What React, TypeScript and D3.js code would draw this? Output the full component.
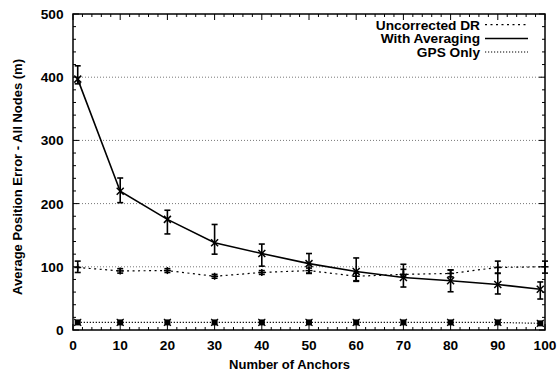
import React from "react";
import * as d3 from "d3";

const W = 557;
const H = 373;
const M = { left: 73, right: 12, top: 14, bottom: 43 };

// Series data (x = number of anchors, y = average position error, lo/hi = error bars)
const drX = [1, 10, 20, 30, 40, 50, 60, 70, 80, 90, 100];
const drY = [99, 93.5, 94, 85, 91, 94, 85, 88, 89.5, 99, 100];
const drLo = [91, 90, 91, 82, 88, 90, 77, 84, 84, 90, 90];
const drHi = [109, 97, 97, 88, 94, 98, 90, 96, 95, 109, 109];

const avgX = [1, 10, 20, 30, 40, 50, 60, 70, 80, 90, 99];
const avgY = [397, 219.5, 175, 138, 121, 105, 92.5, 83, 78, 72, 64.5];
const avgLo = [389.5, 201.5, 152, 120, 101, 89.5, 78, 68, 60.5, 57, 49];
const avgHi = [418, 240.5, 189.5, 167, 136, 121, 114, 104, 95, 89.5, 76];

const gpsX = [1, 10, 20, 30, 40, 50, 60, 70, 80, 90, 99];
const gpsY = [12, 12, 12, 12, 12, 12, 12, 12, 12, 12, 10.5];

const xTicks = [0, 10, 20, 30, 40, 50, 60, 70, 80, 90, 100];
const yTicks = [0, 100, 200, 300, 400, 500];
const gridValues = [100, 200, 300, 400];

const legendLabels = ["Uncorrected DR", "With Averaging", "GPS Only"];

const FONT = "'Liberation Sans', Arial, Helvetica, sans-serif";

export default function App() {
  const x = d3.scaleLinear().domain([0, 100]).range([M.left, W - M.right]);
  const y = d3.scaleLinear().domain([0, 500]).range([H - M.bottom, M.top]);
  const x0 = M.left, x1 = W - M.right, y0 = H - M.bottom, y1 = M.top;

  const line = d3.line<[number, number]>().x((d) => x(d[0])).y((d) => y(d[1]));
  const drPts: [number, number][] = drX.map((v, i) => [v, drY[i]]);
  const avgPts: [number, number][] = avgX.map((v, i) => [v, avgY[i]]);
  const gpsPts: [number, number][] = gpsX.map((v, i) => [v, gpsY[i]]);

  const xMinor = d3.range(0, 101, 2).filter((v) => v % 10 !== 0);
  const yMinor = d3.range(0, 501, 20).filter((v) => v % 100 !== 0);

  const errBar = (xs: number[], lo: number[], hi: number[], key: string) =>
    xs.map((v, i) => {
      const cx = x(v);
      return (
        <g key={key + i} stroke="#000" strokeWidth={1.6}>
          <line x1={cx} x2={cx} y1={y(lo[i])} y2={y(hi[i])} />
          <line x1={cx - 3} x2={cx + 3} y1={y(lo[i])} y2={y(lo[i])} />
          <line x1={cx - 3} x2={cx + 3} y1={y(hi[i])} y2={y(hi[i])} />
        </g>
      );
    });

  const xMark = (px: number, py: number, k: string, s = 3.5) => (
    <g key={k} stroke="#000" strokeWidth={1.5}>
      <line x1={px - s} x2={px + s} y1={py - s} y2={py + s} />
      <line x1={px - s} x2={px + s} y1={py + s} y2={py - s} />
    </g>
  );
  const plusMark = (px: number, py: number, k: string, s = 3.5) => (
    <g key={k} stroke="#000" strokeWidth={1.5}>
      <line x1={px - s} x2={px + s} y1={py} y2={py} />
      <line x1={px} x2={px} y1={py - s} y2={py + s} />
    </g>
  );
  const starMark = (px: number, py: number, k: string, s = 3.5) => (
    <g key={k}>
      <rect x={px - s + 0.5} y={py - s + 0.5} width={2 * s - 1} height={2 * s - 1} fill="#000" />
      <g stroke="#000" strokeWidth={1.2}>
        <line x1={px - s} x2={px + s} y1={py - s} y2={py + s} />
        <line x1={px - s} x2={px + s} y1={py + s} y2={py - s} />
      </g>
    </g>
  );

  const legendRows = [
    { label: legendLabels[0], dash: "2,3.5", width: 1.2, ly: 24.7 },
    { label: legendLabels[1], dash: "none", width: 1.6, ly: 38.5 },
    { label: legendLabels[2], dash: "1.2,1.8", width: 1.2, ly: 52 },
  ];

  return (
    <svg
      width={W}
      height={H}
      style={{ position: "absolute", left: 0, top: 0, background: "#fff" }}
      fontFamily={FONT}
    >
      <rect width={W} height={H} fill="#fff" />
      {/* grid */}
      {gridValues.map((v) => (
        <line
          key={"g" + v}
          x1={x0}
          x2={x1}
          y1={y(v)}
          y2={y(v)}
          stroke="#777"
          strokeWidth={1}
          strokeDasharray="1,2"
        />
      ))}
      {/* ticks */}
      {xTicks.map((v) => (
        <g key={"xt" + v} stroke="#000" strokeWidth={1}>
          <line x1={x(v)} x2={x(v)} y1={y0} y2={y0 - 6} />
          <line x1={x(v)} x2={x(v)} y1={y1} y2={y1 + 6} />
        </g>
      ))}
      {xMinor.map((v) => (
        <g key={"xm" + v} stroke="#000" strokeWidth={1}>
          <line x1={x(v)} x2={x(v)} y1={y0} y2={y0 - 3} />
          <line x1={x(v)} x2={x(v)} y1={y1} y2={y1 + 3} />
        </g>
      ))}
      {yTicks.map((v) => (
        <g key={"yt" + v} stroke="#000" strokeWidth={1}>
          <line x1={x0} x2={x0 + 6} y1={y(v)} y2={y(v)} />
          <line x1={x1} x2={x1 - 6} y1={y(v)} y2={y(v)} />
        </g>
      ))}
      {yMinor.map((v) => (
        <g key={"ym" + v} stroke="#000" strokeWidth={1}>
          <line x1={x0} x2={x0 + 3} y1={y(v)} y2={y(v)} />
          <line x1={x1} x2={x1 - 3} y1={y(v)} y2={y(v)} />
        </g>
      ))}
      {/* series lines */}
      <path d={line(gpsPts) || ""} fill="none" stroke="#000" strokeWidth={1.2} strokeDasharray="1.2,1.8" />
      <path d={line(drPts) || ""} fill="none" stroke="#000" strokeWidth={1.2} strokeDasharray="2,3.5" />
      <path d={line(avgPts) || ""} fill="none" stroke="#000" strokeWidth={1.6} />
      {/* error bars */}
      {errBar(drX, drLo, drHi, "de")}
      {errBar(avgX, avgLo, avgHi, "ae")}
      {/* markers */}
      {drPts.map((p, i) => plusMark(x(p[0]), y(p[1]), "dm" + i))}
      {avgPts.map((p, i) => xMark(x(p[0]), y(p[1]), "am" + i))}
      {gpsPts.map((p, i) => starMark(x(p[0]), y(p[1]), "gm" + i))}
      {/* frame */}
      <rect x={x0} y={y1} width={x1 - x0} height={y0 - y1} fill="none" stroke="#000" strokeWidth={1.5} />
      {/* tick labels */}
      {xTicks.map((v) => (
        <text key={"xl" + v} x={x(v)} y={350} textAnchor="middle" fontSize={13.7} fontWeight="bold">
          {v}
        </text>
      ))}
      {yTicks.map((v) => (
        <text key={"yl" + v} x={63.5} y={y(v)} dy="0.36em" textAnchor="end" fontSize={13.7} fontWeight="bold">
          {v}
        </text>
      ))}
      {/* axis titles */}
      <text x={289.5} y={369} textAnchor="middle" fontSize={13} fontWeight="bold">
        Number of Anchors
      </text>
      <text
        transform={`translate(22,177) rotate(-90)`}
        textAnchor="middle"
        fontSize={13}
        fontWeight="bold"
      >
        Average Position Error - All Nodes (m)
      </text>
      {/* legend */}
      {legendRows.map((r, i) => (
        <g key={"lg" + i}>
          <text x={480} y={r.ly} dy="0.36em" textAnchor="end" fontSize={13.7} fontWeight="bold">
            {r.label}
          </text>
          <line
            x1={485}
            x2={528}
            y1={r.ly}
            y2={r.ly}
            stroke="#000"
            strokeWidth={r.width}
            strokeDasharray={r.dash}
          />
        </g>
      ))}
    </svg>
  );
}
